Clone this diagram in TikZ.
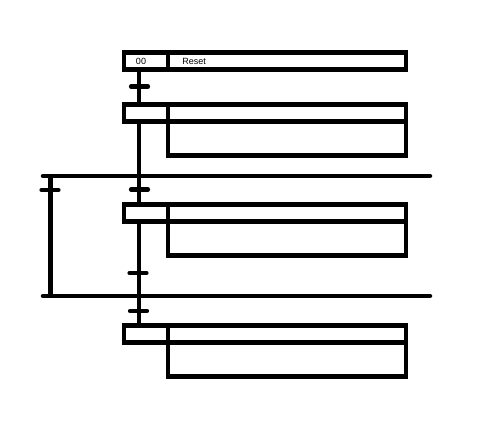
\documentclass[tikz,border=0pt]{standalone}
\usepackage{fontspec}
\setmainfont{Liberation Sans}
\begin{document}
\begin{tikzpicture}[x=1pt,y=-1pt,line width=4.5pt,
  cell/.style={draw,rectangle,inner sep=0pt,outer sep=0pt,anchor=north west,minimum height=17pt},
  numcell/.style={cell,minimum width=44pt},
  actcell/.style={cell,minimum width=238pt},
  lowbox/.style={draw,rectangle,inner sep=0pt,outer sep=0pt,anchor=north west,minimum width=238pt,minimum height=34pt},
  link/.style={line cap=butt},
  trans/.style={line cap=round,line width=4.2pt},
  bus/.style={line cap=round},
  lbl/.style={inner sep=0pt,font=\fontsize{9}{10}\selectfont}]
\useasboundingbox (0,0) rectangle (503,444);
\coordinate (spine) at (139,0);
\coordinate (lspine) at (50.5,0);
% step 1
\node[numcell] (s1num) at (124,52.5) {};
\node[actcell] (s1act) at (168,52.5) {};
\node[lbl] (n00) at (141,61) {00};
\node[lbl,anchor=west] (reset) at (180,61) {Reset};
% step 2
\node[numcell] (s2num) at (124,104.5) {};
\node[actcell] (s2act) at (168,104.5) {};
\node[lowbox] (s2low) at (168,121.5) {};
% step 3
\node[numcell] (s3num) at (124,204.5) {};
\node[actcell] (s3act) at (168,204.5) {};
\node[lowbox] (s3low) at (168,221.5) {};
% step 4
\node[numcell] (s4num) at (124,325.5) {};
\node[actcell] (s4act) at (168,325.5) {};
\node[lowbox] (s4low) at (168,342.5) {};
% buses
\coordinate (busAl) at (43,176);
\coordinate (busAr) at (430,176);
\coordinate (busBl) at (43,296);
\coordinate (busBr) at (430,296);
\draw[bus] (busAl) -- (busAr);
\draw[bus] (busBl) -- (busBr);
% main links
\draw[link] (s1num.south -| spine) -- (s2num.north -| spine);
\draw[link] (s2num.south -| spine) -- (s3num.north -| spine);
\draw[link] (s3num.south -| spine) -- (s4num.north -| spine);
% left link
\draw[link] (busAl -| lspine) -- (busBl -| lspine);
% transitions
\coordinate (t1) at (139.5,86.5);
\coordinate (t2) at (139.5,189.5);
\coordinate (t3) at (138,273);
\coordinate (t4) at (138.5,311);
\coordinate (t5) at (50,190);
\foreach \t in {t1,t2,t3,t4,t5}
  \draw[trans] (\t) ++(-8.5,0) -- ++(17,0);
\end{tikzpicture}
\end{document}
